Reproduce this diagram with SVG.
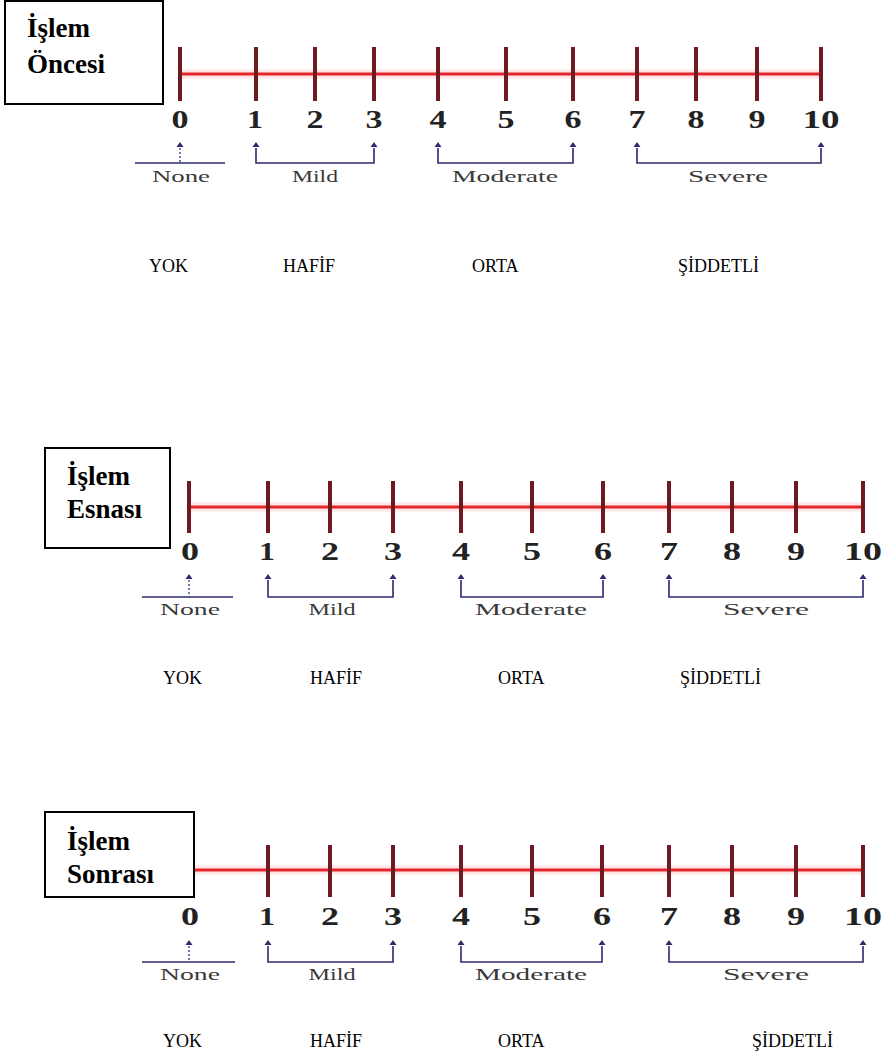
<svg xmlns="http://www.w3.org/2000/svg" width="893" height="1059" viewBox="0 0 893 1059">
<style>
.halo{stroke:#f6b8b8;stroke-width:9;stroke-opacity:0.35;fill:none}
.axis{stroke:#e3262b;stroke-width:3;fill:none}
.tick{stroke:#6e1a20;stroke-width:4;fill:none}
.num{font-family:"Liberation Serif",serif;font-weight:bold;font-size:26px;fill:#222;text-anchor:middle}
.brk{stroke:#2b2b72;stroke-width:1.6;fill:none}
.stem{stroke:#7a7ab0;stroke-width:2;stroke-dasharray:2 2;fill:none}
.tri{fill:#2b2b72}
.lbl{font-family:"Liberation Serif",serif;font-size:17px;fill:#3a3a3a;text-anchor:middle}
.tr{font-family:"Liberation Serif",serif;font-size:18px;fill:#000}
.box{fill:#fff;stroke:#000;stroke-width:2}
.title{font-family:"Liberation Serif",serif;font-weight:bold;font-size:27px;fill:#000}
</style>
<defs>
<path id="arr" class="tri" d="M0,0 L3.5,5 L-3.5,5 Z"/>
</defs>

<!-- Panel 1 -->
<g id="panel1">
  <g id="scale1">
    <line class="halo" x1="180" y1="74" x2="821" y2="74"/>
    <line class="axis" x1="180" y1="74" x2="821" y2="74"/>
    <g class="tick">
      <line x1="180" y1="47" x2="180" y2="101"/>
      <line x1="256" y1="47" x2="256" y2="101"/>
      <line x1="315" y1="47" x2="315" y2="101"/>
      <line x1="374" y1="47" x2="374" y2="101"/>
      <line x1="438" y1="47" x2="438" y2="101"/>
      <line x1="506" y1="47" x2="506" y2="101"/>
      <line x1="573" y1="47" x2="573" y2="101"/>
      <line x1="637" y1="47" x2="637" y2="101"/>
      <line x1="696" y1="47" x2="696" y2="101"/>
      <line x1="757" y1="47" x2="757" y2="101"/>
      <line x1="821" y1="47" x2="821" y2="101"/>
    </g>
    <g>
      <text class="num" x="180" y="128" textLength="17" lengthAdjust="spacingAndGlyphs">0</text>
      <text class="num" x="255" y="128" textLength="16" lengthAdjust="spacingAndGlyphs">1</text>
      <text class="num" x="315" y="128" textLength="17" lengthAdjust="spacingAndGlyphs">2</text>
      <text class="num" x="374" y="128" textLength="17" lengthAdjust="spacingAndGlyphs">3</text>
      <text class="num" x="438" y="128" textLength="17" lengthAdjust="spacingAndGlyphs">4</text>
      <text class="num" x="506" y="128" textLength="17" lengthAdjust="spacingAndGlyphs">5</text>
      <text class="num" x="573" y="128" textLength="17" lengthAdjust="spacingAndGlyphs">6</text>
      <text class="num" x="637" y="128" textLength="17" lengthAdjust="spacingAndGlyphs">7</text>
      <text class="num" x="696" y="128" textLength="17" lengthAdjust="spacingAndGlyphs">8</text>
      <text class="num" x="757" y="128" textLength="17" lengthAdjust="spacingAndGlyphs">9</text>
      <text class="num" x="821" y="128" textLength="37" lengthAdjust="spacingAndGlyphs">10</text>
    </g>
  </g>
  <g id="ranges1">
    <use href="#arr" x="180" y="142"/><line class="stem" x1="180" y1="148" x2="180" y2="163"/>
    <line class="brk" x1="135" y1="163" x2="225" y2="163"/>
    <use href="#arr" x="256" y="142"/><use href="#arr" x="374" y="142"/>
    <path class="brk" d="M256,148 V163 H374 V148"/>
    <use href="#arr" x="438" y="142"/><use href="#arr" x="573" y="142"/>
    <path class="brk" d="M438,148 V163 H573 V148"/>
    <use href="#arr" x="637" y="142"/><use href="#arr" x="821" y="142"/>
    <path class="brk" d="M637,148 V163 H821 V148"/>
    <text class="lbl" x="181" y="182" textLength="58" lengthAdjust="spacingAndGlyphs">None</text>
    <text class="lbl" x="315" y="182" textLength="46" lengthAdjust="spacingAndGlyphs">Mild</text>
    <text class="lbl" x="505" y="182" textLength="106" lengthAdjust="spacingAndGlyphs">Moderate</text>
    <text class="lbl" x="728" y="182" textLength="80" lengthAdjust="spacingAndGlyphs">Severe</text>
  </g>
  <g id="tr1">
    <text class="tr" x="149" y="272">YOK</text>
    <text class="tr" x="283" y="272">HAFİF</text>
    <text class="tr" x="472" y="272">ORTA</text>
    <text class="tr" x="678" y="272">ŞİDDETLİ</text>
  </g>
  <g id="box1">
    <rect class="box" x="5" y="1" width="158" height="103"/>
    <text class="title" x="27" y="37">İşlem</text>
    <text class="title" x="27" y="73">Öncesi</text>
  </g>
</g>

<!-- Panel 2 -->
<g id="panel2">
  <g id="scale2">
    <line class="halo" x1="189" y1="507" x2="863" y2="507"/>
    <line class="axis" x1="189" y1="507" x2="863" y2="507"/>
    <g class="tick">
      <line x1="189" y1="481" x2="189" y2="533"/>
      <line x1="268" y1="481" x2="268" y2="533"/>
      <line x1="330" y1="481" x2="330" y2="533"/>
      <line x1="393" y1="481" x2="393" y2="533"/>
      <line x1="461" y1="481" x2="461" y2="533"/>
      <line x1="532" y1="481" x2="532" y2="533"/>
      <line x1="603" y1="481" x2="603" y2="533"/>
      <line x1="669" y1="481" x2="669" y2="533"/>
      <line x1="732" y1="481" x2="732" y2="533"/>
      <line x1="796" y1="481" x2="796" y2="533"/>
      <line x1="863" y1="481" x2="863" y2="533"/>
    </g>
    <g>
      <text class="num" x="190" y="560" textLength="18" lengthAdjust="spacingAndGlyphs">0</text>
      <text class="num" x="267" y="560" textLength="16" lengthAdjust="spacingAndGlyphs">1</text>
      <text class="num" x="330" y="560" textLength="18" lengthAdjust="spacingAndGlyphs">2</text>
      <text class="num" x="393" y="560" textLength="18" lengthAdjust="spacingAndGlyphs">3</text>
      <text class="num" x="461" y="560" textLength="18" lengthAdjust="spacingAndGlyphs">4</text>
      <text class="num" x="532" y="560" textLength="18" lengthAdjust="spacingAndGlyphs">5</text>
      <text class="num" x="603" y="560" textLength="18" lengthAdjust="spacingAndGlyphs">6</text>
      <text class="num" x="669" y="560" textLength="18" lengthAdjust="spacingAndGlyphs">7</text>
      <text class="num" x="732" y="560" textLength="18" lengthAdjust="spacingAndGlyphs">8</text>
      <text class="num" x="796" y="560" textLength="18" lengthAdjust="spacingAndGlyphs">9</text>
      <text class="num" x="863" y="560" textLength="38" lengthAdjust="spacingAndGlyphs">10</text>
    </g>
  </g>
  <g id="ranges2">
    <use href="#arr" x="189" y="574"/><line class="stem" x1="189" y1="580" x2="189" y2="597"/>
    <line class="brk" x1="142" y1="597" x2="233" y2="597"/>
    <use href="#arr" x="268" y="574"/><use href="#arr" x="393" y="574"/>
    <path class="brk" d="M268,580 V597 H393 V580"/>
    <use href="#arr" x="461" y="574"/><use href="#arr" x="603" y="574"/>
    <path class="brk" d="M461,580 V597 H603 V580"/>
    <use href="#arr" x="669" y="574"/><use href="#arr" x="863" y="574"/>
    <path class="brk" d="M669,580 V597 H863 V580"/>
    <text class="lbl" x="190" y="615" textLength="60" lengthAdjust="spacingAndGlyphs">None</text>
    <text class="lbl" x="332" y="615" textLength="47" lengthAdjust="spacingAndGlyphs">Mild</text>
    <text class="lbl" x="531" y="615" textLength="112" lengthAdjust="spacingAndGlyphs">Moderate</text>
    <text class="lbl" x="766" y="615" textLength="86" lengthAdjust="spacingAndGlyphs">Severe</text>
  </g>
  <g id="tr2">
    <text class="tr" x="163" y="684">YOK</text>
    <text class="tr" x="310" y="684">HAFİF</text>
    <text class="tr" x="498" y="684">ORTA</text>
    <text class="tr" x="680" y="684">ŞİDDETLİ</text>
  </g>
  <g id="box2">
    <rect class="box" x="45" y="448" width="125" height="100"/>
    <text class="title" x="67" y="485">İşlem</text>
    <text class="title" x="67" y="518">Esnası</text>
  </g>
</g>

<!-- Panel 3 -->
<g id="panel3">
  <g id="scale3">
    <line class="halo" x1="189" y1="870" x2="863" y2="870"/>
    <line class="axis" x1="189" y1="870" x2="863" y2="870"/>
    <g class="tick">
      <line x1="189" y1="845" x2="189" y2="897"/>
      <line x1="268" y1="845" x2="268" y2="897"/>
      <line x1="330" y1="845" x2="330" y2="897"/>
      <line x1="393" y1="845" x2="393" y2="897"/>
      <line x1="461" y1="845" x2="461" y2="897"/>
      <line x1="532" y1="845" x2="532" y2="897"/>
      <line x1="602" y1="845" x2="602" y2="897"/>
      <line x1="669" y1="845" x2="669" y2="897"/>
      <line x1="732" y1="845" x2="732" y2="897"/>
      <line x1="796" y1="845" x2="796" y2="897"/>
      <line x1="863" y1="845" x2="863" y2="897"/>
    </g>
    <g>
      <text class="num" x="190" y="925" textLength="18" lengthAdjust="spacingAndGlyphs">0</text>
      <text class="num" x="267" y="925" textLength="16" lengthAdjust="spacingAndGlyphs">1</text>
      <text class="num" x="330" y="925" textLength="18" lengthAdjust="spacingAndGlyphs">2</text>
      <text class="num" x="393" y="925" textLength="18" lengthAdjust="spacingAndGlyphs">3</text>
      <text class="num" x="461" y="925" textLength="18" lengthAdjust="spacingAndGlyphs">4</text>
      <text class="num" x="532" y="925" textLength="18" lengthAdjust="spacingAndGlyphs">5</text>
      <text class="num" x="602" y="925" textLength="18" lengthAdjust="spacingAndGlyphs">6</text>
      <text class="num" x="669" y="925" textLength="18" lengthAdjust="spacingAndGlyphs">7</text>
      <text class="num" x="732" y="925" textLength="18" lengthAdjust="spacingAndGlyphs">8</text>
      <text class="num" x="796" y="925" textLength="18" lengthAdjust="spacingAndGlyphs">9</text>
      <text class="num" x="863" y="925" textLength="38" lengthAdjust="spacingAndGlyphs">10</text>
    </g>
  </g>
  <g id="ranges3">
    <use href="#arr" x="189" y="940"/><line class="stem" x1="189" y1="946" x2="189" y2="962"/>
    <line class="brk" x1="142" y1="962" x2="235" y2="962"/>
    <use href="#arr" x="268" y="940"/><use href="#arr" x="393" y="940"/>
    <path class="brk" d="M268,946 V962 H393 V946"/>
    <use href="#arr" x="461" y="940"/><use href="#arr" x="602" y="940"/>
    <path class="brk" d="M461,946 V962 H602 V946"/>
    <use href="#arr" x="669" y="940"/><use href="#arr" x="863" y="940"/>
    <path class="brk" d="M669,946 V962 H863 V946"/>
    <text class="lbl" x="190" y="980" textLength="60" lengthAdjust="spacingAndGlyphs">None</text>
    <text class="lbl" x="332" y="980" textLength="47" lengthAdjust="spacingAndGlyphs">Mild</text>
    <text class="lbl" x="531" y="980" textLength="112" lengthAdjust="spacingAndGlyphs">Moderate</text>
    <text class="lbl" x="766" y="980" textLength="86" lengthAdjust="spacingAndGlyphs">Severe</text>
  </g>
  <g id="tr3">
    <text class="tr" x="163" y="1047">YOK</text>
    <text class="tr" x="310" y="1047">HAFİF</text>
    <text class="tr" x="498" y="1047">ORTA</text>
    <text class="tr" x="752" y="1047">ŞİDDETLİ</text>
  </g>
  <g id="box3">
    <rect class="box" x="45" y="812" width="149" height="85"/>
    <text class="title" x="67" y="850">İşlem</text>
    <text class="title" x="67" y="883">Sonrası</text>
  </g>
</g>
</svg>
